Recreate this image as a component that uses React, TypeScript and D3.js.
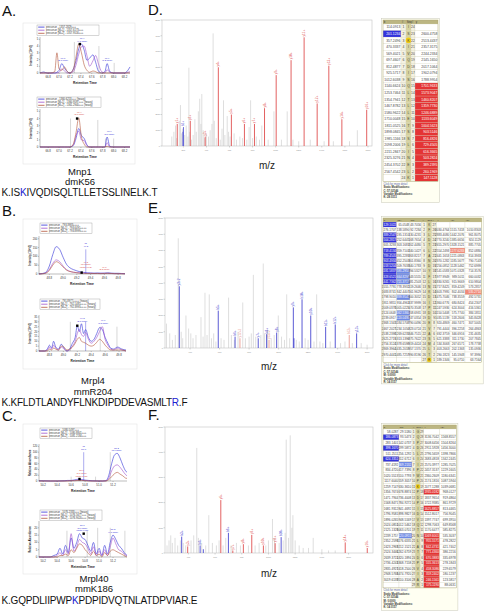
import React from "react";
import * as d3 from "d3";

const FONT = "'Liberation Sans', Arial, Helvetica, sans-serif";
const BLUE = "#2f2fd6";
const VIOLET = "#a050cc";
const BROWN = "#b4553a";
const RED = "#d84848";

// ---------- Chromatogram data ----------
const aRt = [66.65, 66.72, 66.78, 66.85, 66.92, 66.96, 67.0, 67.05, 67.1, 67.15, 67.2, 67.26, 67.31, 67.36, 67.41, 67.46, 67.51, 67.56, 67.62, 67.67, 67.72, 67.78, 67.84, 67.88, 67.93, 68.0, 68.1, 68.2, 68.3];
const aTopBlue = [0, 0.15, 0, 0, 0, 0.1, 0.4, 1.4, 0.7, 0.2, 0, 0.6, 1.8, 3.6, 4.3, 3.4, 1.9, 2.2, 2.7, 1.6, 0.3, 0, 0.2, 1.4, 0.2, 0, 0, 0, 0.9];
const aTopViolet = [0, 0, 0, 0, 0, 0, 0.1, 0.6, 0.3, 0, 0, 0.2, 1.2, 2.8, 3.9, 4.0, 2.6, 1.0, 1.8, 2.6, 1.4, 0.2, 0, 0.5, 0.1, 0, 0, 0, 0.2];
const aTopBrown = [0, 0, 0, 0, 0.2, 3.0, 0.6, 0.4, 0.9, 0.2, 0, 0.5, 2.4, 4.3, 3.0, 1.2, 0.4, 0.1, 0.3, 0.2, 0, 0, 0, 0, 0, 0, 0, 0, 0];
const aBotBlue = [0, 0, 0, 0, 0, 0, 0, 0, 0, 0, 0, 0.2, 1.2, 2.6, 1.6, 1.2, 0.3, 0, 0, 0, 0, 0, 0, 1.4, 0.1, 0, 0, 0, 0];
const aBotViolet = [0, 0, 0, 0, 0, 0, 0, 0, 0, 0, 0, 0.3, 1.6, 2.2, 1.0, 0.9, 0.2, 0, 0, 0, 0, 0, 0, 0.6, 0, 0, 0, 0, 0];
const aBotBrown = [0, 0, 0, 0, 0, 0, 0, 0, 0, 0, 0, 0.4, 2.0, 4.1, 1.4, 0.4, 0, 0, 0, 0, 0, 0, 0, 0.1, 0, 0, 0, 0, 0];
const aRtTicks = [66.8, 67.0, 67.2, 67.4, 67.6, 67.8, 68.0, 68.2];
const aIntTicks = [0, 1, 2, 3, 4, 5];

const bTopRt = [48.65, 48.7, 48.75, 48.8, 48.85, 48.9, 48.95, 49.0, 49.05, 49.1, 49.15, 49.2, 49.25, 49.3, 49.35, 49.4, 49.45, 49.5, 49.55, 49.6, 49.65, 49.7, 49.75, 49.8, 49.85, 49.9];
const bTopBlue = [1, 3, 10, 45, 110, 155, 140, 95, 55, 35, 25, 18, 12, 9, 7, 6, 5, 6, 5, 5, 7, 5, 4, 4, 3, 2];
const bTopViolet = [0, 2, 6, 25, 60, 80, 70, 45, 25, 15, 10, 8, 6, 5, 4, 4, 3, 3, 3, 4, 3, 3, 2, 2, 2, 1];
const bTopBrown = [0, 1, 5, 20, 50, 70, 60, 40, 22, 14, 10, 7, 5, 4, 3, 3, 3, 3, 2, 3, 4, 3, 2, 2, 1, 1];
const bBotRt = [48.65, 48.69, 48.73, 48.77, 48.8, 48.83, 48.86, 48.89, 48.93, 48.97, 49.01, 49.05, 49.09, 49.13, 49.17, 49.2, 49.23, 49.26, 49.29, 49.32, 49.36, 49.4, 49.44, 49.48, 49.52, 49.56, 49.6, 49.64, 49.68, 49.72, 49.78, 49.84, 49.9];
const bBotBlue = [0, 0, 0, 2, 6, 3, 10, 4, 2, 7, 3, 0, 2, 8, 14, 26, 20, 28, 18, 22, 14, 10, 12, 18, 24, 22, 14, 8, 3, 2, 4, 2, 1];
const bBotViolet = [0, 0, 0, 1, 4, 2, 6, 3, 1, 4, 2, 0, 1, 5, 10, 18, 22, 17, 15, 19, 12, 8, 10, 14, 20, 25, 12, 6, 2, 1, 3, 1, 0];
const bBotBrown = [0, 0, 0, 0, 2, 1, 3, 2, 1, 5, 4, 1, 2, 4, 8, 12, 14, 10, 9, 8, 6, 5, 6, 9, 12, 10, 6, 3, 1, 1, 1, 1, 0];
const bRtTicks = [48.8, 49.0, 49.2, 49.4, 49.6, 49.8];
const bTopIntTicks = [0, 50, 100, 150, 200];
const bBotIntTicks = [0, 5, 10, 15, 20, 25, 30, 35];

const cTopRt = [50.14, 50.2, 50.3, 50.4, 50.5, 50.55, 50.6, 50.65, 50.7, 50.75, 50.8, 50.85, 50.9, 51.0, 51.05, 51.1, 51.14, 51.18, 51.22, 51.26, 51.3, 51.34, 51.38, 51.4];
const cTopBlue = [1, 1, 0, 0, 1, 2, 2, 4, 6, 5, 3, 2, 1, 0, 0, 1, 20, 60, 90, 96, 80, 55, 35, 30];
const cTopViolet = [0, 0, 0, 0, 0, 1, 1, 2, 3, 3, 2, 1, 0, 0, 0, 1, 10, 35, 52, 56, 48, 35, 22, 18];
const cTopBrown = [0, 0, 0, 0, 0, 0, 1, 1, 2, 2, 1, 0, 0, 0, 0, 0, 5, 15, 25, 30, 24, 18, 10, 9];
const cBotRt = [50.14, 50.2, 50.25, 50.3, 50.35, 50.4, 50.44, 50.48, 50.52, 50.56, 50.6, 50.64, 50.68, 50.72, 50.76, 50.8, 50.84, 50.88, 50.92, 50.96, 51.0, 51.04, 51.08, 51.12, 51.16, 51.2, 51.24, 51.28, 51.32, 51.36, 51.4];
const cBotBlue = [0, 0, 0, 0, 1, 2, 6, 2, 8, 3, 13, 6, 10, 16, 13, 12, 8, 4, 10, 2, 6, 1, 8, 2, 10, 15, 12, 8, 6, 3, 1];
const cBotViolet = [0, 0, 0, 0, 0, 1, 3, 1, 5, 2, 16, 4, 7, 12, 10, 9, 6, 2, 7, 1, 4, 1, 5, 1, 7, 13, 9, 5, 4, 2, 1];
const cBotBrown = [0, 0, 0, 0, 0, 0, 1, 1, 2, 1, 5, 3, 6, 9, 8, 5, 3, 1, 4, 1, 2, 0, 3, 1, 4, 5, 4, 3, 2, 1, 0];
const cRtTicks = [50.2, 50.4, 50.6, 50.8, 51.0, 51.2];
const cTopIntTicks = [0, 20, 40, 60, 80, 100, 120];
const cBotIntTicks = [0, 5, 10, 15, 20];

const aTopLegend = ["precursor - 1357.2829+++", "precursor [M+1] - 1357.6173+++", "precursor [M+2] - 1357.9516+++"];
const aBotLegend = ["precursor - 1360.6253+++ (heavy)", "precursor [M+1] - 1360.9597+++ (heavy)", "precursor [M+2] - 1361.2940+++ (heavy)"];
const bTopLegend = ["precursor - 793.3983++++", "precursor [M+1] - 793.6491++++", "precursor [M+2] - 793.8999++++"];
const bBotLegend = ["precursor - 791.8977++++ (heavy)", "precursor [M+1] - 792.1485++++ (heavy)", "precursor [M+2] - 792.3993++++ (heavy)"];
const cTopLegend = ["precursor - 1080.5497+++", "precursor [M+1] - 1080.8841+++", "precursor [M+2] - 1081.2184+++"];
const cBotLegend = ["precursor - 1076.2333+++ (heavy)", "precursor [M+1] - 1076.5677+++ (heavy)", "precursor [M+2] - 1076.9020+++ (heavy)"];

type VL = { rt: number; v: number; c: string };
type Ann = { rt: number; v: number; t: string[]; c: string };
const aTopV: VL[] = [{ rt: 67.28, v: 4.6, c: "#9a9a9a" }, { rt: 67.73, v: 4.0, c: "#9a9a9a" }, { rt: 68.01, v: 1.5, c: "#9a9a9a" }];
const aBotV: VL[] = [{ rt: 67.21, v: 4.0, c: "#9a9a9a" }, { rt: 67.71, v: 3.8, c: "#9a9a9a" }, { rt: 67.85, v: 1.2, c: "#9a9a9a" }, { rt: 68.0, v: 1.2, c: "#9a9a9a" }];
const bTopV: VL[] = [{ rt: 49.33, v: 140, c: BLUE }];
const bBotV: VL[] = [{ rt: 49.1, v: 30, c: "#9a9a9a" }, { rt: 49.32, v: 30, c: BLUE }, { rt: 49.53, v: 25, c: "#9a9a9a" }, { rt: 49.77, v: 25, c: "#9a9a9a" }];
const cTopV: VL[] = [{ rt: 50.78, v: 100, c: BLUE }, { rt: 51.16, v: 100, c: "#9a9a9a" }, { rt: 50.6, v: 15, c: "#9a9a9a" }, { rt: 50.95, v: 15, c: "#9a9a9a" }];
const cBotV: VL[] = [{ rt: 50.54, v: 18, c: "#9a9a9a" }, { rt: 50.83, v: 18, c: "#9a9a9a" }, { rt: 50.98, v: 20, c: "#9a9a9a" }, { rt: 51.16, v: 20, c: "#9a9a9a" }, { rt: 51.37, v: 18, c: "#9a9a9a" }];

const aTopAnn: Ann[] = [{ rt: 67.07, v: 1.6, t: ["67.1", "(2.1 ppm)"], c: BLUE }, { rt: 67.42, v: 4.5, t: ["67.4", "(4.1 ppm)"], c: BLUE }, { rt: 67.88, v: 1.6, t: ["67.9", "(1.2 ppm)"], c: BLUE }];
const aBotAnn: Ann[] = [{ rt: 67.37, v: 4.3, t: ["67.4", "(3.0 ppm)"], c: RED }, { rt: 67.92, v: 1.6, t: ["67.9", "(3.1 ppm)"], c: BLUE }];
const bTopAnn: Ann[] = [{ rt: 49.33, v: 150, t: ["ID", "49.3"], c: BLUE }, { rt: 49.33, v: 30, t: ["49.3", "(3.8 ppm)", "(idotp 0.93)"], c: RED }, { rt: 49.6, v: 15, t: ["49.6", "(2.3 ppm)"], c: RED }];
const bBotAnn: Ann[] = [{ rt: 49.27, v: 29, t: ["49.3", "(2.8 ppm)"], c: BLUE }, { rt: 49.57, v: 27, t: ["49.6", "(1.5 ppm)"], c: BLUE }];
const cTopAnn: Ann[] = [{ rt: 50.78, v: 105, t: ["ID", "50.8"], c: BLUE }, { rt: 50.75, v: 12, t: ["50.7", "(5.1 ppm)", "(idotp 0.85)"], c: RED }, { rt: 51.25, v: 100, t: ["51.2", "(2.6 ppm)"], c: BLUE }];
const cBotAnn: Ann[] = [{ rt: 50.76, v: 17, t: ["50.7", "(3.0 ppm)", "(idotp 0.88)"], c: BLUE }, { rt: 51.2, v: 16, t: ["51.2", "(4.1 ppm)"], c: BLUE }];

// ---------- Spectrum data ----------
type LP = [number, number, string];
const dRedPeaks: LP[] = [[147.11, 1.4, "y1+"], [260.2, 1.6, "y2+"], [389.24, 0.6, "y3+"], [503.28, 5.0, "y4+"], [616.37, 2.0, "y5+"], [729.45, 1.4, "y6+"], [816.48, 1.4, "y7+"], [903.51, 2.4, "y8+"], [1004.56, 4.5, "y9+"], [1133.6, 5.45, "y10+"], [1246.69, 6.9, "y11+"], [1359.77, 2.7, "y12+"], [1460.82, 5.1, "y13+"], [1573.9, 1.7, "y14+"], [1788.99, 2.3, "y16+"]];
const dBluePeaks: LP[] = [[201.12, 1.2, "b2+"], [196.5, 0.9, ""]];
const dGreyPeaks: [number, number][] = [[100, 0.6], [118, 0.9], [132, 1.3], [142, 0.5], [165, 1.6], [175, 2.6], [185, 0.8], [192, 1.1], [212, 0.7], [225, 1.3], [240, 0.6], [248, 4.97], [255, 0.9], [270, 0.4], [285, 0.7], [300, 1.7], [312, 0.9], [330, 2.2], [342, 3.0], [352, 1.4], [360, 3.3], [372, 1.0], [385, 0.5], [400, 0.8], [418, 0.6], [432, 1.0], [448, 1.4], [458, 7.15], [468, 1.6], [485, 0.5], [520, 0.4], [535, 1.1], [548, 2.9], [560, 0.7], [580, 1.9], [592, 0.9], [605, 0.6], [640, 0.8], [660, 0.4], [690, 0.6], [712, 0.5], [750, 0.4], [770, 1.2], [783, 2.9], [800, 0.5], [832, 0.6], [860, 0.4], [880, 1.3], [935, 0.4], [985, 2.2], [1050, 0.4], [1100, 2.2], [1150, 0.4], [1200, 0.3], [1300, 0.4], [1420, 0.3], [1500, 0.3], [1640, 0.3], [1708, 1.0]];
const dMzTicks = [200, 400, 600, 800, 1000, 1200, 1400, 1600, 1800];
const dIntTicks = [0, 1, 2, 3, 4, 5, 6, 7, 8];

const eBluePeaks: LP[] = [[327, 3.8, "y3+2"], [591, 2.3, "b5+"], [705, 0.7, "b6+"], [862, 0.6, "y7+"], [919, 0.85, "b8+"], [987, 0.95, "y8+"], [1100, 2.5, "y9+"], [1104, 0.6, ""], [1159, 3.0, "b10+"], [1218, 2.0, "y10+"], [1319, 1.3, "b11+"], [1384, 1.45, "b12+"], [1529, 0.9, "y13+"]];
const eRedPeaks: LP[] = [[738, 0.6, "y12+2"], [935, 0.5, "y15+2"], [1479, 0.8, "b13+"]];
const eGreyPeaks: [number, number][] = [[240, 1.5], [262, 0.9], [280, 0.5], [300, 0.8], [320, 6.75], [340, 1.0], [350, 0.6], [372, 2.0], [390, 1.2], [405, 0.9], [420, 0.6], [440, 0.8], [474, 1.9], [488, 0.7], [501, 3.4], [515, 0.8], [530, 3.3], [545, 0.6], [560, 0.9], [575, 0.4], [610, 0.6], [630, 0.5], [661, 3.1], [680, 0.8], [700, 0.5], [725, 1.0], [757, 2.8], [775, 0.6], [800, 0.7], [815, 0.9], [829, 4.5], [845, 0.7], [880, 0.8], [896, 5.2], [905, 0.9], [925, 1.1], [950, 0.6], [970, 0.8], [998, 2.0], [1020, 0.7], [1040, 0.5], [1055, 3.3], [1075, 0.6], [1120, 0.5], [1140, 0.4], [1180, 0.6], [1200, 0.5], [1240, 0.4], [1258, 3.3], [1280, 0.4], [1300, 0.3], [1350, 0.4], [1420, 0.3], [1450, 0.4], [1500, 0.3], [1560, 0.3], [1600, 0.2]];
const eMzTicks = [400, 600, 800, 1000, 1200, 1400, 1600];
const eIntTicks = [0, 1, 2, 3, 4, 5, 6, 7, 8];

const fRedPeaks: LP[] = [[395, 0.26, "y3+"], [643, 2.1, "y6+"], [733, 0.1, "y7+"], [812, 0.35, "y8+"], [875, 0.72, "y9+"], [962, 0.3, "y10+"], [1050, 0.39, "y11+"], [1575, 0.42, "y14+"], [1740, 0.2, "y16+"]];
const fBluePeaks: LP[] = [[350, 0.65, "b3+"], [488, 0.3, "b4+"], [512, 0.15, ""], [700, 0.8, "b6+"], [1095, 0.63, "b10+"]];
const fGreyPeaks: [number, number][] = [[240, 0.3], [255, 0.5], [268, 0.7], [280, 0.4], [300, 0.6], [320, 0.3], [340, 0.5], [362, 0.4], [380, 0.3], [420, 0.5], [440, 0.7], [463, 4.17], [475, 0.6], [500, 0.4], [530, 0.3], [553, 1.5], [580, 0.4], [610, 0.3], [630, 0.5], [660, 0.3], [680, 0.6], [720, 0.3], [760, 0.4], [790, 0.3], [850, 0.3], [900, 0.3], [930, 0.4], [980, 0.3], [1000, 0.5], [1030, 1.35], [1045, 0.6], [1080, 0.4], [1110, 0.5], [1125, 0.8], [1133, 4.5], [1150, 0.6], [1163, 4.67], [1175, 1.0], [1183, 1.5], [1200, 0.5], [1230, 0.3], [1260, 0.2], [1300, 0.2], [1335, 0.6], [1400, 0.15], [1450, 0.1], [1500, 0.1]];
const fMzTicks = [400, 600, 800, 1000, 1200, 1400, 1600];
const fIntTicks = [0, 1, 2, 3, 4, 5];

// ---------- Table data ----------
const dSeq = "ISKIVQDISQLTLLETSSLINELK";
const dB = ["114.0913", "201.1234", "357.2496", "470.3337", "569.4021", "697.4607", "812.4877", "925.5717", "1012.6038", "1140.6624", "1253.7464", "1354.7941", "1467.8782", "1580.9622", "1710.0048", "1811.0525", "1898.0845", "1985.1166", "2098.2006", "2211.2847", "2325.3276", "2454.3702", "2567.4542", ""];
const dY = ["", "2600.4758", "2513.4437", "2357.3175", "2244.2334", "2145.1650", "2017.1064", "1902.0794", "1788.9954", "1701.9633", "1573.9047", "1460.8207", "1359.7730", "1246.6889", "1133.6049", "1004.5623", "903.5146", "816.4826", "729.4505", "616.3665", "503.2824", "389.2395", "260.1969", "147.1128"];

const eSeq = "KFLDTLANDYFLNKDIPDDEVASMLTR";
const eB = ["129.1022", "276.1707", "389.2547", "504.2817", "605.3293", "718.4134", "789.4505", "903.4934", "1018.5204", "1181.5837", "1328.6521", "1441.7362", "1555.7791", "1683.8741", "1798.9010", "1911.9851", "2009.0378", "2124.0648", "2239.0917", "2368.1343", "2467.2027", "2538.2398", "2625.2719", "2756.3124", "2869.3964", "2970.4441", ""];
const eB2 = ["65.0548", "138.5890", "195.1310", "252.6445", "303.1683", "359.7103", "395.2289", "452.2503", "509.7638", "591.2955", "664.8297", "721.3717", "778.3932", "842.4407", "899.9541", "956.4962", "1005.0225", "1062.5360", "1120.0495", "1184.5708", "1234.1050", "1269.6235", "1313.1396", "1378.6598", "1435.2018", "1485.7257", ""];
const eB3 = ["43.7056", "92.7284", "130.4231", "168.7654", "202.4480", "240.1427", "263.8217", "301.8360", "340.1783", "394.5327", "443.5555", "481.2503", "519.2646", "561.9629", "600.3052", "637.9999", "670.3508", "708.6931", "747.0354", "790.0496", "823.0724", "846.7515", "875.7622", "919.4424", "957.1370", "990.8196", ""];
const eY = ["", "3030.4764", "2883.4080", "2770.3240", "2655.2970", "2554.2493", "2441.1653", "2370.1282", "2256.0852", "2141.0583", "1977.9949", "1830.9265", "1717.8425", "1603.7995", "1475.7046", "1360.6776", "1247.5936", "1150.5408", "1035.5139", "920.4869", "791.4444", "692.3759", "621.3388", "534.3068", "403.2663", "290.1823", "189.1346"];
const eY2 = ["", "1515.7418", "1442.2076", "1385.6656", "1328.1521", "1277.6283", "1221.0863", "1185.5677", "1128.5462", "1071.0328", "989.5011", "915.9669", "859.4249", "802.4034", "738.3559", "680.8424", "624.3004", "575.7740", "518.2606", "460.7471", "396.2258", "346.6916", "311.1730", "267.6571", "202.1368", "145.5948", "95.0710"];
const eY3 = ["", "1010.8303", "961.8075", "924.1129", "885.7705", "852.0880", "814.3933", "790.7143", "752.6999", "714.3576", "660.0032", "610.9804", "573.2857", "535.2714", "492.5731", "454.2307", "416.5361", "384.1851", "345.8428", "307.5005", "264.4863", "231.4635", "207.7845", "178.7738", "135.0936", "97.3990", "63.7164"];

const fSeq = "GQPDLIIPWPKPDPIDVQTNLATDPVIAR";
const fB = ["58.0287", "186.0873", "283.1401", "398.1670", "511.2511", "624.3351", "737.4192", "834.4720", "1020.5513", "1117.6040", "1259.7147", "1356.7674", "1471.7944", "1568.8471", "1681.9312", "1796.9581", "1896.0265", "2024.0851", "2125.1328", "2239.1757", "2352.2598", "2423.2969", "2524.3446", "2639.3715", "2736.4243", "2835.4927", "2948.5768", "3019.6139", ""];
const fB2 = ["29.5180", "93.5473", "142.0737", "199.5872", "256.1292", "312.6712", "369.2132", "417.7396", "510.7793", "559.3057", "630.3610", "678.8874", "736.4008", "784.9272", "841.4692", "898.9827", "948.5169", "1012.5462", "1063.0701", "1120.0915", "1176.6335", "1212.1521", "1262.6759", "1320.1894", "1368.7158", "1418.2500", "1474.7920", "1510.3106", ""];
const fY = ["", "3136.7042", "3008.6456", "2911.5928", "2796.5659", "2683.4818", "2570.3977", "2457.3137", "2360.2609", "2174.1816", "2077.1288", "1935.0182", "1837.9654", "1722.9385", "1625.8857", "1512.8017", "1397.7747", "1298.7063", "1170.6477", "1069.6001", "955.5571", "842.4731", "771.4360", "670.3883", "555.3613", "458.3086", "359.2402", "246.1561", "175.1190"];
const fY2 = ["", "1568.8557", "1504.8264", "1456.3000", "1398.7866", "1342.2445", "1285.7025", "1229.1605", "1180.6341", "1087.5944", "1039.0681", "968.0127", "919.4864", "861.9729", "813.4465", "756.9045", "699.3910", "649.8568", "585.8275", "535.3037", "478.2822", "421.7402", "386.2216", "335.6978", "278.1843", "229.6579", "180.1237", "123.5817", "88.0631"];

const dFooter = ["Click for more detail", "Static Modifications:", "C: 57.02146", "Variable Modifications:", "K: 28.0313"];
const eFooter = ["Click for more detail", "Static Modifications:", "C: 57.02146", "M: 0.0000", "Variable Modifications:", "R: 14.0157"];
const fFooter = ["Click for more detail", "Static Modifications:", "C: 57.02146", "M: 0.0000", "Variable Modifications:", "K: 14.0157"];

// ---------- Components ----------
type ChromProps = {
  x0: number; x1: number; y0: number; y1: number;
  xDomain: [number, number]; yMax: number; xTicks: number[]; yTicks: number[];
  rt: number[]; series: number[][]; legend: string[]; lx: number; ly: number; lw: number;
  vlines: VL[]; anns: Ann[]; marker: [number, number]; yLabel: string;
};
const SERIES_COLORS = [BLUE, VIOLET, BROWN];

function Chrom(p: ChromProps) {
  const xs = d3.scaleLinear().domain(p.xDomain).range([p.x0, p.x1]);
  const ys = d3.scaleLinear().domain([0, p.yMax]).range([p.y1, p.y0]);
  const line = d3.line<number>().x((_, i) => xs(p.rt[i])).y((d) => ys(d)).curve(d3.curveMonotoneX);
  const rowH = 3.1;
  return (
    <g fontFamily={FONT}>
      <rect x={p.lx} y={p.ly} width={p.lw} height={rowH * 3 + 1.2} fill="#fff" stroke="#8a8a8a" strokeWidth={0.35} />
      {p.legend.map((t, i) => (
        <g key={i}>
          <line x1={p.lx + 1.2} x2={p.lx + 7.5} y1={p.ly + 2.1 + i * rowH} y2={p.ly + 2.1 + i * rowH} stroke={SERIES_COLORS[i]} strokeWidth={0.8} />
          <text x={p.lx + 9} y={p.ly + 3.1 + i * rowH} fontSize={2.6} fill="#333">{t}</text>
        </g>
      ))}
      {p.vlines.map((v, i) => (
        <line key={i} x1={xs(v.rt)} x2={xs(v.rt)} y1={ys(0)} y2={ys(v.v)} stroke={v.c} strokeWidth={0.4} />
      ))}
      {p.series.map((s, i) => (
        <path key={i} d={line(s) || ""} fill="none" stroke={SERIES_COLORS[i]} strokeWidth={0.6} />
      ))}
      <line x1={p.x0} x2={p.x0} y1={p.y0 - 1} y2={p.y1} stroke="#444" strokeWidth={0.35} />
      <line x1={p.x0} x2={p.x1} y1={p.y1} y2={p.y1} stroke="#444" strokeWidth={0.35} />
      {p.yTicks.map((t) => (
        <g key={t}>
          <line x1={p.x0 - 1} x2={p.x0} y1={ys(t)} y2={ys(t)} stroke="#444" strokeWidth={0.3} />
          <text x={p.x0 - 1.6} y={ys(t) + 1} fontSize={2.8} textAnchor="end" fill="#333">{t}</text>
        </g>
      ))}
      {p.xTicks.map((t) => (
        <g key={t}>
          <line x1={xs(t)} x2={xs(t)} y1={p.y1} y2={p.y1 + 1} stroke="#444" strokeWidth={0.3} />
          <text x={xs(t)} y={p.y1 + 5} fontSize={2.8} textAnchor="middle" fill="#333">{t.toFixed(1)}</text>
        </g>
      ))}
      <text x={(p.x0 + p.x1) / 2} y={p.y1 + 11} fontSize={3.3} fontWeight="bold" textAnchor="middle" fill="#222">Retention Time</text>
      <text transform={`translate(${p.x0 - 8},${(p.y0 + p.y1) / 2}) rotate(-90)`} fontSize={2.8} fontWeight="bold" textAnchor="middle" fill="#222">{p.yLabel}</text>
      {p.anns.map((a, i) => (
        <text key={i} x={xs(a.rt)} fontSize={2.4} textAnchor="middle" fill={a.c}>
          {a.t.map((s, j) => (
            <tspan key={j} x={xs(a.rt)} y={ys(a.v) - 1 - (a.t.length - 1 - j) * 2.6}>{s}</tspan>
          ))}
        </text>
      ))}
      <rect x={xs(p.marker[0]) - 1.2} y={ys(p.marker[1]) - 1.2} width={2.4} height={2.4} fill="#000" />
    </g>
  );
}

type SpecProps = {
  x0: number; x1: number; y0: number; y1: number; domain: [number, number]; yMax: number;
  xTicks: number[]; yTicks: number[]; grey: [number, number][]; red: LP[]; blue: LP[];
  redColor: string; blueColor: string; mzY: number;
};
function Spectrum(p: SpecProps) {
  const xs = d3.scaleLinear().domain(p.domain).range([p.x0, p.x1]);
  const ys = d3.scaleLinear().domain([0, p.yMax]).range([p.y1, p.y0]);
  const colored = (arr: LP[], color: string) =>
    arr.map((d, i) => (
      <g key={color + i}>
        <line x1={xs(d[0])} x2={xs(d[0])} y1={ys(0)} y2={ys(d[1])} stroke={color} strokeWidth={0.9} />
        {d[2] && (
          <text transform={`translate(${xs(d[0]) + 1},${ys(d[1]) - 0.8}) rotate(-90)`} fontSize={3.2} fill={color}>{d[2]}</text>
        )}
      </g>
    ));
  return (
    <g fontFamily={FONT}>
      <rect x={p.x0} y={p.y0} width={p.x1 - p.x0} height={p.y1 - p.y0} fill="#fff" stroke="#c4c4c4" strokeWidth={0.6} />
      {p.yTicks.map((t) => (
        <g key={t}>
          <line x1={p.x0 - 1.5} x2={p.x0} y1={ys(t)} y2={ys(t)} stroke="#999" strokeWidth={0.4} />
          <text x={p.x0 - 2} y={ys(t) + 0.8} fontSize={2.1} textAnchor="end" fill="#888">{t * 1000}</text>
        </g>
      ))}
      {p.xTicks.map((t) => (
        <g key={t}>
          <line x1={xs(t)} x2={xs(t)} y1={p.y1} y2={p.y1 + 1.5} stroke="#999" strokeWidth={0.4} />
          <text x={xs(t)} y={p.y1 + 4.5} fontSize={2.2} textAnchor="middle" fill="#888">{t}</text>
        </g>
      ))}
      {p.grey.map((d, i) => (
        <line key={i} x1={xs(d[0])} x2={xs(d[0])} y1={ys(0)} y2={ys(d[1])} stroke="#c2c2c2" strokeWidth={0.55} />
      ))}
      {colored(p.red, p.redColor)}
      {colored(p.blue, p.blueColor)}
      <text x={(p.x0 + p.x1) / 2} y={p.mzY} fontSize={10} textAnchor="middle" fill="#222">m/z</text>
    </g>
  );
}

type Col = { w: number; label: string; bg: string };
type HL = { col: number; rows: number[]; fill: string; color: string };
type TableProps = {
  x: number; y: number; cols: Col[]; rowH: number; headerH: number; rows: string[][];
  hl: HL[]; circle: [number, number]; footer: string[]; footerH: number; fs: number;
};
function Table(p: TableProps) {
  const xpos: number[] = [];
  let acc = p.x;
  p.cols.forEach((c) => { xpos.push(acc); acc += c.w; });
  const totalW = acc - p.x;
  const bodyY = p.y + p.headerH;
  const bodyH = p.rows.length * p.rowH;
  const hlMap = new Map<string, HL>();
  p.hl.forEach((h) => h.rows.forEach((r) => hlMap.set(`${r}-${h.col}`, h)));
  return (
    <g fontFamily={FONT}>
      <rect x={p.x - 1.5} y={p.y - 1.5} width={totalW + 3} height={p.headerH + bodyH + p.footerH + 3} fill="#fffff2" stroke="#c8c8b8" strokeWidth={0.5} />
      <rect x={p.x} y={p.y} width={totalW} height={p.headerH} fill="#bcb682" />
      {p.cols.map((c, j) => (
        <text key={j} x={xpos[j] + 0.8} y={p.y + p.headerH - 0.9} fontSize={p.fs * 0.8} fill="#333">{c.label}</text>
      ))}
      {p.rows.map((r, i) => (
        <g key={i}>
          {r.map((v, j) => {
            const h = hlMap.get(`${i + 1}-${j}`);
            const cy = bodyY + i * p.rowH;
            const isCircle = p.circle[0] === i + 1 && p.circle[1] === j;
            return (
              <g key={j}>
                <rect x={xpos[j]} y={cy} width={p.cols[j].w} height={p.rowH} fill={h ? h.fill : p.cols[j].bg} stroke="#d0cdb8" strokeWidth={0.25} />
                {isCircle && <circle cx={xpos[j] + p.cols[j].w / 2} cy={cy + p.rowH / 2} r={p.rowH * 0.42} fill="#f0cc10" />}
                <text x={p.cols[j].w < 6 ? xpos[j] + p.cols[j].w / 2 : xpos[j] + p.cols[j].w - 0.7} y={cy + p.rowH / 2 + p.fs * 0.35} fontSize={p.fs} textAnchor={p.cols[j].w < 6 ? "middle" : "end"} fill={h ? h.color : "#444"}>{v}</text>
              </g>
            );
          })}
        </g>
      ))}
      <rect x={p.x} y={p.y} width={totalW} height={p.headerH + bodyH} fill="none" stroke="#a8a272" strokeWidth={0.4} />
      {p.footer.map((t, i) => (
        <text key={i} x={p.x + 0.5} y={bodyY + bodyH + 3.5 + i * 3.4} fontSize={2.7} fill={i === 0 ? "#5560b0" : "#333"} fontWeight={i === 0 ? "normal" : "bold"}>{t}</text>
      ))}
    </g>
  );
}

function buildRows(seq: string, before: string[][], after: string[][]): string[][] {
  const n = seq.length;
  return Array.from(seq).map((aa, i) => [
    ...before.map((c) => c[i]),
    String(i + 1), aa, String(n - i),
    ...after.map((c) => c[i]),
  ]);
}

const range = (a: number, b: number) => d3.range(a, b + 1);

function SeqText({ x, y, pre, mod, post, len }: { x: number; y: number; pre: string; mod: string; post: string; len: number }) {
  return (
    <text x={x} y={y} fontSize={10} fontFamily={FONT} fill="#111" textLength={len} lengthAdjust="spacing">
      {pre}<tspan fill="#2020d0">{mod}</tspan>{post}
    </text>
  );
}

export default function App() {
  const W = 484, H = 615;
  const CREAM_NUM = "#f4f2e2";
  const AA_BG = "#d6d29e";
  const dCols: Col[] = [
    { w: 18, label: "b", bg: "#fff" }, { w: 5, label: "#", bg: CREAM_NUM }, { w: 5, label: "Seq", bg: AA_BG },
    { w: 4, label: "#", bg: CREAM_NUM }, { w: 23, label: "y", bg: "#fff" },
  ];
  const eCols: Col[] = [
    { w: 13.7, label: "b", bg: "#fff" }, { w: 13.3, label: "b2+", bg: "#fff" }, { w: 11.7, label: "b3+", bg: "#fff" },
    { w: 5, label: "#", bg: CREAM_NUM }, { w: 5, label: "Seq", bg: AA_BG }, { w: 5, label: "#", bg: CREAM_NUM },
    { w: 13.3, label: "y", bg: "#fff" }, { w: 15, label: "y2+", bg: "#fff" }, { w: 16.7, label: "y3+", bg: "#fff" },
  ];
  const fCols: Col[] = [
    { w: 16, label: "b", bg: "#fff" }, { w: 13, label: "b2+", bg: "#fff" }, { w: 3.4, label: "#", bg: CREAM_NUM },
    { w: 5, label: "Seq", bg: AA_BG }, { w: 3.3, label: "#", bg: CREAM_NUM }, { w: 16, label: "y", bg: "#fff" },
    { w: 16.7, label: "y2+", bg: "#fff" },
  ];
  const DB = "#3434dc", LB = "#6f8ae6", RD = "#e43434", SAL = "#f08a7a";

  return (
    <svg width={W} height={H} viewBox={`0 0 ${W} ${H}`} style={{ position: "absolute", left: 0, top: 0, background: "#fff" }}>
      <rect x={0} y={0} width={W} height={H} fill="#fff" />
      {/* Panel letters */}
      {[["A.", 2, 16], ["B.", 2, 216], ["C.", 2, 421], ["D.", 148, 15], ["E.", 148, 213], ["F.", 148, 420]].map(([t, x, y]) => (
        <text key={t as string} x={x as number} y={y as number} fontSize={15} fontFamily={FONT} fill="#111">{t}</text>
      ))}

      {/* Chromatogram boxes */}
      <rect x={23} y={23} width={112} height={141} fill="#fff" stroke="#e4e4e4" strokeWidth={0.6} />
      <rect x={23} y={219} width={114} height={150} fill="#fff" stroke="#e4e4e4" strokeWidth={0.6} />
      <rect x={23} y={424} width={114} height={150} fill="#fff" stroke="#e4e4e4" strokeWidth={0.6} />

      <Chrom x0={40} x1={130} y0={38} y1={73} xDomain={[66.65, 68.3]} yMax={5.2} xTicks={aRtTicks} yTicks={aIntTicks}
        rt={aRt} series={[aTopBlue, aTopViolet, aTopBrown]} legend={aTopLegend} lx={37} ly={25} lw={62}
        vlines={aTopV} anns={aTopAnn} marker={[67.38, 4.3]} yLabel="Intensity (10^4)" />
      <Chrom x0={40} x1={130} y0={110} y1={147} xDomain={[66.65, 68.3]} yMax={5.2} xTicks={aRtTicks} yTicks={aIntTicks}
        rt={aRt} series={[aBotBlue, aBotViolet, aBotBrown]} legend={aBotLegend} lx={37} ly={97} lw={64}
        vlines={aBotV} anns={aBotAnn} marker={[67.33, 4.0]} yLabel="Intensity (10^4)" />

      <Chrom x0={39} x1={125} y0={237} y1={274} xDomain={[48.65, 49.9]} yMax={210} xTicks={bRtTicks} yTicks={bTopIntTicks}
        rt={bTopRt} series={[bTopBlue, bTopViolet, bTopBrown]} legend={bTopLegend} lx={40} ly={223} lw={52}
        vlines={bTopV} anns={bTopAnn} marker={[49.27, 8]} yLabel="Intensity (10^4)" />
      <Chrom x0={39} x1={126} y0={316} y1={351} xDomain={[48.65, 49.9]} yMax={36} xTicks={bRtTicks} yTicks={bBotIntTicks}
        rt={bBotRt} series={[bBotBlue, bBotViolet, bBotBrown]} legend={bBotLegend} lx={40} ly={299} lw={60}
        vlines={bBotV} anns={bBotAnn} marker={[49.2, 26]} yLabel="Intensity (10^4)" />

      <Chrom x0={39} x1={127} y0={445} y1={481} xDomain={[50.14, 51.4]} yMax={125} xTicks={cRtTicks} yTicks={cTopIntTicks}
        rt={cTopRt} series={[cTopBlue, cTopViolet, cTopBrown]} legend={cTopLegend} lx={40} ly={428} lw={52}
        vlines={cTopV} anns={cTopAnn} marker={[50.72, 7]} yLabel="Relative Abundance" />
      <Chrom x0={39} x1={127} y0={522} y1={557} xDomain={[50.14, 51.4]} yMax={24} xTicks={cRtTicks} yTicks={cBotIntTicks}
        rt={cBotRt} series={[cBotBlue, cBotViolet, cBotBrown]} legend={cBotLegend} lx={40} ly={510} lw={62}
        vlines={cBotV} anns={cBotAnn} marker={[50.78, 16]} yLabel="Relative Abundance" />

      {/* Labels under chromatograms */}
      <g fontFamily={FONT} fontSize={9.5} fill="#111" textAnchor="middle">
        <text x={80} y={174.5}>Mnp1</text>
        <text x={80} y={185}>dmK56</text>
        <text x={93} y={384}>Mrpl4</text>
        <text x={93} y={394.5}>mmR204</text>
        <text x={94} y={581.5}>Mrpl40</text>
        <text x={94} y={592}>mmK186</text>
      </g>
      <SeqText x={1.5} y={196} pre="K.IS" mod="K" post="IVQDISQLTLLETSSLINELK.T" len={156} />
      <SeqText x={1.5} y={405.5} pre="K.KFLDTLANDYFLNKDIPDDEVASMLT" mod="R" post=".F" len={186} />
      <SeqText x={1.5} y={603.5} pre="K.GQPDLIIPWP" mod="K" post="PDPIDVQTNLATDPVIAR.E" len={196} />

      {/* Spectra */}
      <Spectrum x0={162} x1={372} y0={20} y1={146} domain={[15, 1835]} yMax={8} xTicks={dMzTicks} yTicks={dIntTicks}
        grey={dGreyPeaks} red={dRedPeaks} blue={dBluePeaks} redColor="#e05050" blueColor="#5a5ad8" mzY={169} />
      <Spectrum x0={165} x1={373} y0={218} y1={348} domain={[230, 1640]} yMax={8} xTicks={eMzTicks} yTicks={eIntTicks}
        grey={eGreyPeaks} red={eRedPeaks} blue={eBluePeaks} redColor="#eb9a90" blueColor="#4848d0" mzY={370} />
      <Spectrum x0={165} x1={373} y0={427} y1={553} domain={[225, 1783]} yMax={5} xTicks={fMzTicks} yTicks={fIntTicks}
        grey={fGreyPeaks} red={fRedPeaks} blue={fBluePeaks} redColor="#e05050" blueColor="#4848d0" mzY={577} />

      {/* Tables */}
      <Table x={383} y={20} cols={dCols} rowH={6.55} headerH={4} fs={3.4}
        rows={buildRows(dSeq, [dB], [dY])}
        hl={[{ col: 0, rows: [2], fill: DB, color: "#fff" }, { col: 4, rows: range(10, 24), fill: RD, color: "#fff" }]}
        circle={[3, 2]} footer={dFooter} footerH={20} />
      <Table x={383} y={218} cols={eCols} rowH={5.2} headerH={4} fs={3.0}
        rows={buildRows(eSeq, [eB, eB2, eB3], [eY, eY2, eY3])}
        hl={[
          { col: 0, rows: [1, 3, 4, 6, 7, 8, 9, 10, 11, 12], fill: DB, color: "#fff" },
          { col: 1, rows: [10, 11, 12, 15, 18, 19], fill: LB, color: "#fff" },
          { col: 7, rows: [6], fill: SAL, color: "#fff" },
          { col: 8, rows: [14], fill: SAL, color: "#fff" },
        ]}
        circle={[27, 4]} footer={eFooter} footerH={20} />
      <Table x={383} y={425} cols={fCols} rowH={5.48} headerH={4} fs={3.1}
        rows={buildRows(fSeq, [fB, fB2], [fY, fY2])}
        hl={[
          { col: 0, rows: [2, 4, 6], fill: DB, color: "#fff" },
          { col: 1, rows: [7, 20], fill: LB, color: "#fff" },
          { col: 5, rows: [12, 15, ...range(20, 29)], fill: RD, color: "#fff" },
        ]}
        circle={[11, 3]} footer={fFooter} footerH={21} />
    </svg>
  );
}
